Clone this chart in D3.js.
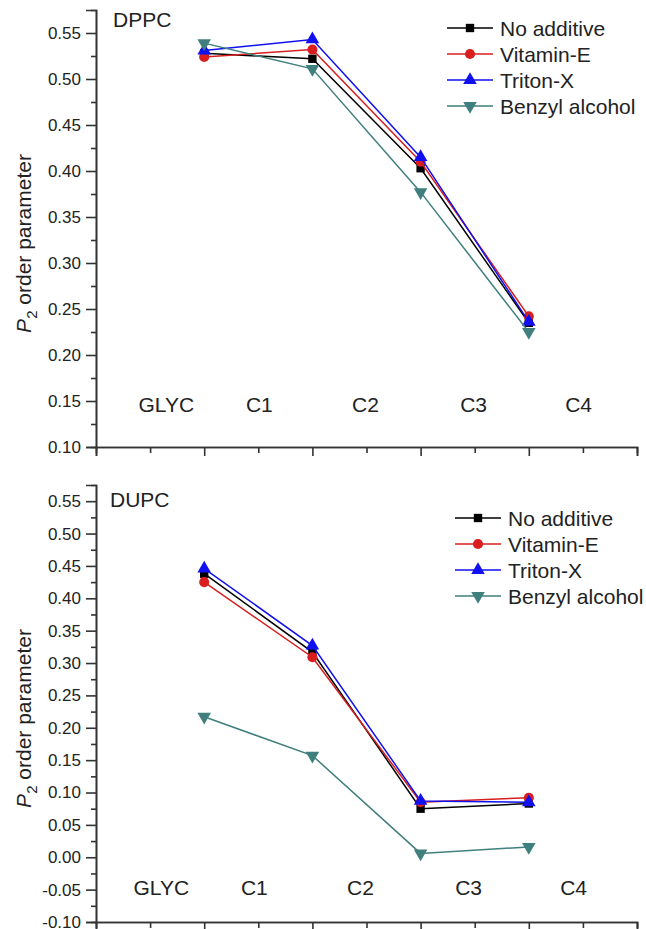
<!DOCTYPE html>
<html>
<head>
<meta charset="utf-8">
<script src="https://cdn.jsdelivr.net/npm/d3@7"></script>
<style>
  html, body { margin: 0; padding: 0; background: #fff; }
  svg text { font-family: "Liberation Sans", Arial, sans-serif; fill: #222; }
</style>
</head>
<body>
<svg id="chart" width="646" height="929"></svg>
<script>
// categories along the x axis (positions 1..4 carry data)
var xPoints = [1, 2, 3, 4];
var segmentLabels = ["GLYC", "C1", "C2", "C3", "C4"];
var segmentLabelPos = [0.65, 1.51, 2.49, 3.49, 4.46];

var seriesNames = ["No additive", "Vitamin-E", "Triton-X", "Benzyl alcohol"];

// DPPC values
var dppcNoAdditive = [0.528, 0.522, 0.403, 0.235];
var dppcVitaminE   = [0.524, 0.532, 0.410, 0.242];
var dppcTritonX    = [0.531, 0.543, 0.415, 0.236];
var dppcBenzyl     = [0.539, 0.511, 0.377, 0.225];

// DUPC values
var dupcNoAdditive = [0.438, 0.317, 0.075, 0.083];
var dupcVitaminE   = [0.425, 0.309, 0.085, 0.092];
var dupcTritonX    = [0.446, 0.327, 0.087, 0.085];
var dupcBenzyl     = [0.217, 0.157, 0.006, 0.016];

var yTicksTop = [0.10, 0.15, 0.20, 0.25, 0.30, 0.35, 0.40, 0.45, 0.50, 0.55];
var yTicksBottom = [-0.10, -0.05, 0.00, 0.05, 0.10, 0.15, 0.20, 0.25, 0.30, 0.35, 0.40, 0.45, 0.50, 0.55];

var colors = ["#000000", "#d81e1e", "#1010f0", "#3f7f7d"];
var symbols = [d3.symbolSquare, d3.symbolCircle, d3.symbolTriangle, d3.symbolTriangle];
var symbolSizes = [70, 80, 80, 80];
var symbolRotate = [0, 0, 0, 180];

var svg = d3.select("#chart");
var x = d3.scaleLinear().domain([0, 5]).range([96, 637]);

function drawPanel(opts) {
    var g = svg.append("g");
    var y = d3.scaleLinear().domain(opts.yDomain).range(opts.yRange);
    var series = opts.series;

    // minor ticks
    var yMinor = d3.range(opts.yDomain[0] + 0.025, opts.yDomain[1], 0.05);
    g.append("g")
        .attr("transform", "translate(" + x(0) + ",0)")
        .call(d3.axisLeft(y).tickValues(yMinor).tickSize(5).tickFormat(""))
        .call(styleAxis);
    g.append("g")
        .attr("transform", "translate(0," + opts.yRange[0] + ")")
        .call(d3.axisBottom(x).tickValues([0.5, 1.5, 2.5, 3.5, 4.5]).tickSize(6).tickFormat(""))
        .call(styleAxis);

    // major axes
    g.append("g")
        .attr("transform", "translate(" + x(0) + ",0)")
        .call(d3.axisLeft(y).tickValues(opts.yTicks).tickSize(10).tickPadding(5)
            .tickFormat(function (d) { return (Math.abs(d) < 1e-9 ? 0 : d).toFixed(2); }))
        .call(styleAxis)
        .selectAll("text").style("font-size", "17px");
    g.append("g")
        .attr("transform", "translate(0," + opts.yRange[0] + ")")
        .call(d3.axisBottom(x).tickValues([0, 1, 2, 3, 4, 5]).tickSize(9).tickFormat(""))
        .call(styleAxis);

    // segment labels
    g.selectAll("text.seg").data(segmentLabels).enter().append("text")
        .attr("class", "seg")
        .attr("x", function (d, i) { return x(segmentLabelPos[i]) + opts.labelDx; })
        .attr("y", opts.segY)
        .attr("text-anchor", "middle")
        .style("font-size", "21px")
        .text(function (d) { return d; });

    // panel title
    g.append("text")
        .attr("x", opts.titleX).attr("y", opts.titleY)
        .style("font-size", "21px")
        .text(opts.title);

    // y axis title
    var yt = g.append("text")
        .attr("transform", "translate(31," + ((opts.yRange[0] + opts.yRange[1]) / 2 + 15) + ") rotate(-90)")
        .attr("text-anchor", "middle")
        .style("font-size", "21px");
    yt.append("tspan").style("font-style", "italic").text("P");
    yt.append("tspan").attr("dy", 6).style("font-size", "15px").text("2");
    yt.append("tspan").attr("dy", -6).text(" order parameter");

    // lines and markers
    var line = d3.line().x(function (d, i) { return x(xPoints[i]); }).y(function (d) { return y(d); });
    series.forEach(function (vals, s) {
        g.append("path")
            .attr("d", line(vals))
            .attr("fill", "none")
            .attr("stroke", colors[s])
            .attr("stroke-width", 1.5);
        g.selectAll("path.m" + s).data(vals).enter().append("path")
            .attr("class", "m" + s)
            .attr("d", d3.symbol().type(symbols[s]).size(symbolSizes[s]))
            .attr("fill", colors[s])
            .attr("transform", function (d, i) {
                return "translate(" + x(xPoints[i]) + "," + y(d) + ") rotate(" + symbolRotate[s] + ")";
            });
    });

    // legend
    var lg = g.append("g").attr("transform", "translate(" + opts.legendX + "," + opts.legendY + ")");
    seriesNames.forEach(function (name, s) {
        var row = lg.append("g").attr("transform", "translate(0," + (s * 26) + ")");
        row.append("line").attr("x1", 0).attr("x2", 46).attr("y1", 0).attr("y2", 0)
            .attr("stroke", colors[s]).attr("stroke-width", 1.5);
        row.append("path")
            .attr("d", d3.symbol().type(symbols[s]).size(symbolSizes[s]))
            .attr("fill", colors[s])
            .attr("transform", "translate(23,0) rotate(" + symbolRotate[s] + ")");
        row.append("text").attr("x", 53).attr("y", 7.5)
            .style("font-size", "21px")
            .text(name);
    });
}

function styleAxis(sel) {
    sel.select(".domain").attr("stroke", "#333").attr("stroke-width", 1.6);
    sel.selectAll(".tick line").attr("stroke", "#333").attr("stroke-width", 1.6);
    sel.selectAll(".tick text").attr("fill", "#222");
}

drawPanel({
    title: "DPPC", titleX: 113, titleY: 27,
    yDomain: [0.1, 0.575], yRange: [447, 10], yTicks: yTicksTop,
    series: [dppcNoAdditive, dppcVitaminE, dppcTritonX, dppcBenzyl],
    segY: 412, labelDx: 0,
    legendX: 447, legendY: 28
});

drawPanel({
    title: "DUPC", titleX: 110, titleY: 507,
    yDomain: [-0.1, 0.575], yRange: [922, 485], yTicks: yTicksBottom,
    series: [dupcNoAdditive, dupcVitaminE, dupcTritonX, dupcBenzyl],
    segY: 895, labelDx: -5,
    legendX: 455, legendY: 518
});
</script>
</body>
</html>
